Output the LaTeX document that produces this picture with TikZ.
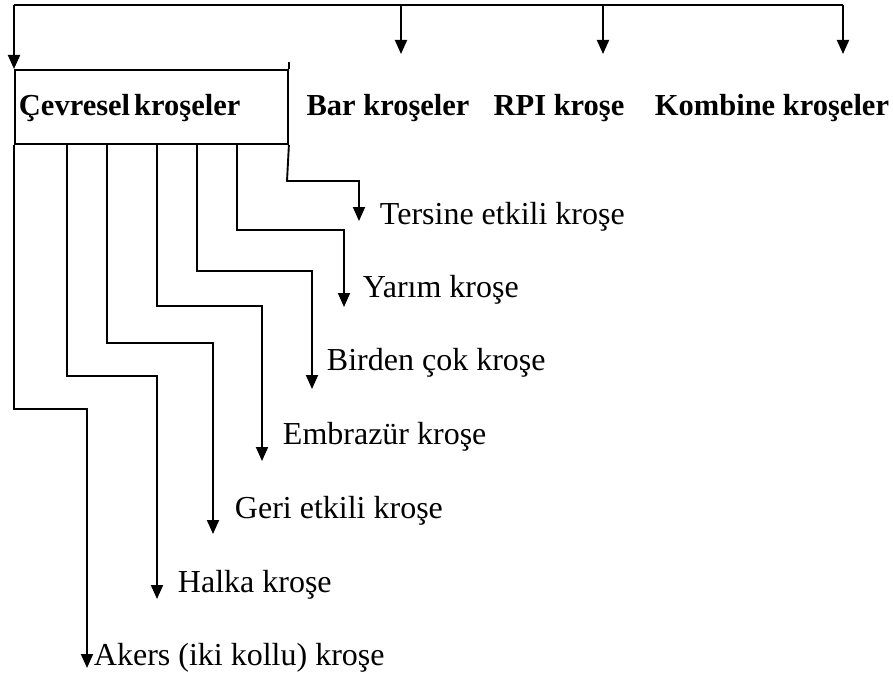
\documentclass[tikz,border=0pt]{standalone}
\usepackage{fontspec}
\setmainfont{Liberation Serif}
\usetikzlibrary{arrows.meta,calc}
\begin{document}
\begin{tikzpicture}[x=1pt,y=-1pt, line width=1.9pt,
  arr/.style={-{Triangle[length=14pt,width=12pt]}},
  lbl/.style={anchor=base west, inner sep=0pt, font=\fontsize{32}{38}\selectfont},
  toplbl/.style={anchor=base, inner sep=0pt, font=\fontsize{30.5}{36}\selectfont\bfseries}]
\useasboundingbox (0,0) rectangle (893,677);
% main box
\node[draw, anchor=north west, minimum width=273pt, minimum height=74pt,
      text width=265pt, inner xsep=4pt, inner ysep=0pt, align=left,
      text height=22pt, text depth=4pt,
      font=\fontsize{30.5}{36}\selectfont\bfseries] (box) at (14,69) {Çevresel\hspace{4pt}kroşeler};
\draw (box.north east) -- ++(0,-7);
% top labels
\node[toplbl] (bar) at (388,115) {Bar kroşeler};
\node[toplbl] (rpi) at (559,115) {RPI kroşe};
\node[toplbl] (komb) at (772,115) {Kombine kroşeler};
% sub labels
\node[lbl] (ters) at (379,224) {Tersine etkili kroşe};
\node[lbl] (yarim) at (362,297) {Yarım kroşe};
\node[lbl] (birden) at (326,370) {Birden çok kroşe};
\node[lbl] (embr) at (282,444) {Embrazür kroşe};
\node[lbl] (geri) at (234,518) {Geri etkili kroşe};
\node[lbl] (halka) at (177,592) {Halka kroşe};
\node[lbl] (akers) at (93,665) {Akers (iki kollu) kroşe};
% top bus
\coordinate (j0) at (14,5);
\coordinate (j1) at (401,5);
\coordinate (j2) at (603,5);
\coordinate (j3) at (843,5);
\coordinate (tBar) at (401,54);
\coordinate (tRpi) at (603,54);
\coordinate (tKomb) at (843,54);
\draw (j0) -- (j3);
\draw[arr] (j0) -- (box.north west);
\draw[arr] (j1) -- (tBar);
\draw[arr] (j2) -- (tRpi);
\draw[arr] (j3) -- (tKomb);
% tips of sub arrows
\coordinate (tT) at (359,221);
\coordinate (tY) at (344,307);
\coordinate (tB) at (312,389);
\coordinate (tE) at (262,461);
\coordinate (tG) at (213,534);
\coordinate (tH) at (157,599);
\coordinate (tA) at (87,668);
\draw[arr] (box.south east) -- (287,181) -| (tT);
\draw[arr] ([xshift=223pt]box.south west) -- (237,230) -| (tY);
\draw[arr] ([xshift=183pt]box.south west) -- (197,271) -| (tB);
\draw[arr] ([xshift=143pt]box.south west) -- (157,306) -| (tE);
\draw[arr] ([xshift=93pt]box.south west) -- (107,343) -| (tG);
\draw[arr] ([xshift=53pt]box.south west) -- (67,376) -| (tH);
\draw[arr] (box.south west) -- (14,409) -| (tA);
\end{tikzpicture}
\end{document}
